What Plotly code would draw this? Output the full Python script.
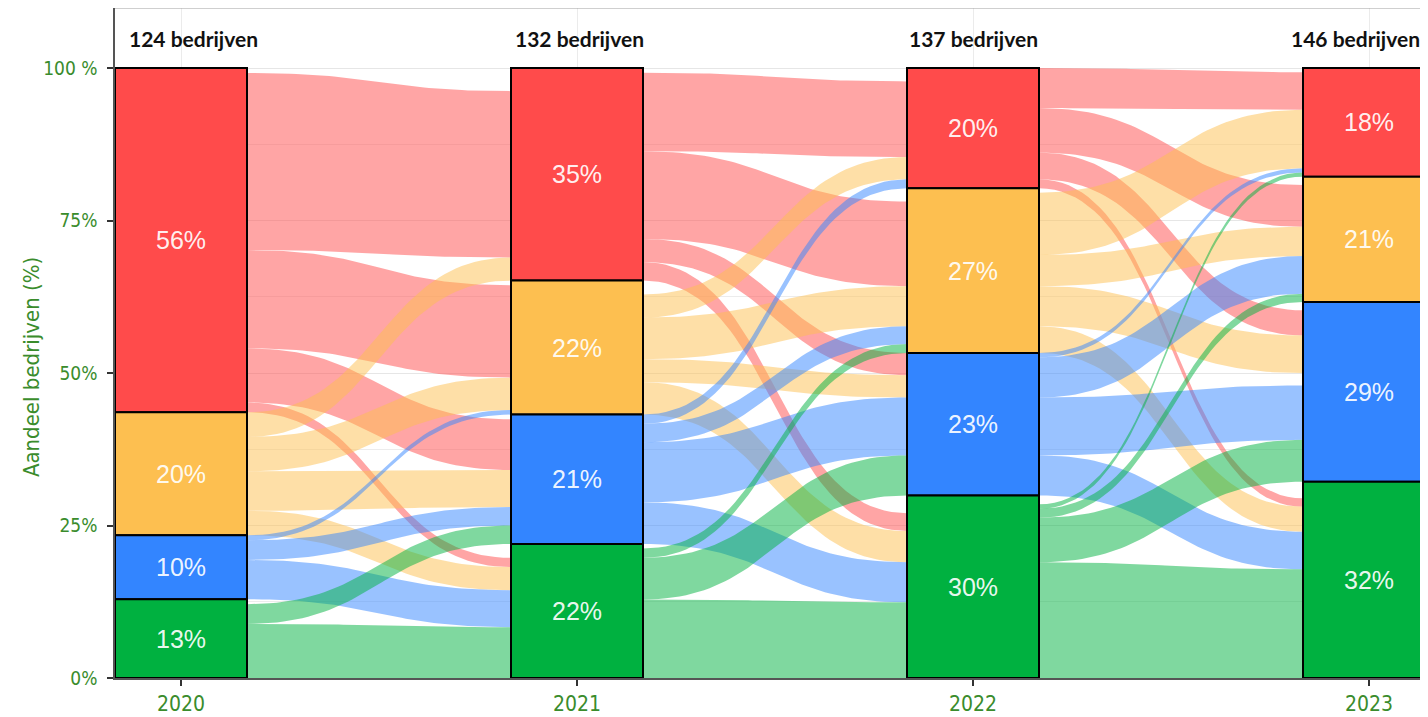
import numpy as np
import plotly.graph_objects as go

# ---------------- data ----------------
years = ["2020", "2021", "2022", "2023"]
companies = [124, 132, 137, 146]                 # number of companies per year
categories = ["Rood", "Oranje", "Blauw", "Groen"]  # stacking order, top -> bottom

counts_2020 = [70, 25, 13, 16]
counts_2021 = [46, 29, 28, 29]
counts_2022 = [27, 37, 32, 41]
counts_2023 = [26, 30, 43, 47]
stratum_counts = [counts_2020, counts_2021, counts_2022, counts_2023]

# flows[source][target] (companies), order Rood, Oranje, Blauw, Groen
flows_2020_2021 = [[36, 20, 11, 2],
                   [5, 7, 8, 5],
                   [0, 1, 4, 8],
                   [0, 0, 4, 11]]
flows_2021_2022 = [[17, 19, 5, 4],
                   [5, 9, 5, 7],
                   [2, 4, 13, 9],
                   [0, 2, 9, 17]]
flows_2022_2023 = [[9, 10, 6, 2],
                   [14, 7, 9, 6],
                   [1, 9, 13, 9],
                   [1, 2, 10, 26]]
transitions = [flows_2020_2021, flows_2021_2022, flows_2022_2023]

# extra empty space inside a stack: (transition, side, stratum) -> (after item, companies)
inner_gaps = {(2, "in", 2): (1, 3)}

# ---------------- style ----------------
bar_colors = ["#FF4B4B", "#FDBF50", "#3385FF", "#00B140"]
flow_colors = ["rgba(255,75,75,0.5)", "rgba(253,191,80,0.5)",
               "rgba(51,133,255,0.5)", "rgba(0,177,64,0.5)"]
GREEN_TXT = "#3a8c2c"
TICK_FONT = "Liberation Sans Narrow, DejaVu Sans Condensed, Roboto, sans-serif"
W = 1 / 3  # bar width in axis units


def bottoms(counts):
    return [sum(counts[k + 1:]) for k in range(len(counts))]


def stack(base, sizes, gap=None):
    pos = [None] * len(sizes)
    y = base
    for k in reversed(range(len(sizes))):
        if gap is not None and gap[0] == k:
            y += gap[1]
        pos[k] = (y, y + sizes[k])
        y += sizes[k]
    return pos


def curve(x0, x1, y0, y1, n=50):
    t = np.linspace(0, 1, n)
    k = 0.5
    c0 = x0 + k * (x1 - x0)
    c1 = x1 - k * (x1 - x0)
    x = (1 - t) ** 3 * x0 + 3 * (1 - t) ** 2 * t * c0 + 3 * (1 - t) * t ** 2 * c1 + t ** 3 * x1
    y = (1 - t) ** 3 * y0 + 3 * (1 - t) ** 2 * t * y0 + 3 * (1 - t) * t ** 2 * y1 + t ** 3 * y1
    return x, y


fig = go.Figure()

for t, fl in enumerate(transitions):
    nL, nR = companies[t], companies[t + 1]
    bL, bR = bottoms(stratum_counts[t]), bottoms(stratum_counts[t + 1])
    out_pos = [stack(bL[s], fl[s], inner_gaps.get((t, "out", s))) for s in range(4)]
    in_pos = [stack(bR[d], [fl[s][d] for s in range(4)], inner_gaps.get((t, "in", d)))
              for d in range(4)]
    x0, x1 = t + W / 2, t + 1 - W / 2
    for s in range(4):
        for d in range(4):
            if fl[s][d] == 0:
                continue
            l0, l1 = [v * 100 / nL for v in out_pos[s][d]]
            r0, r1 = [v * 100 / nR for v in in_pos[d][s]]
            xt, yt = curve(x0, x1, l1, r1)
            xb, yb = curve(x0, x1, l0, r0)
            fig.add_trace(go.Scatter(
                x=np.concatenate([xt, xb[::-1]]), y=np.concatenate([yt, yb[::-1]]),
                mode="lines", fill="toself", fillcolor=flow_colors[s],
                line=dict(width=0), hoverinfo="skip", showlegend=False))

annotations = []
shapes = []
for j, counts in enumerate(stratum_counts):
    n = companies[j]
    b = bottoms(counts)
    for c in range(4):
        lo, hi = b[c] * 100 / n, (b[c] + counts[c]) * 100 / n
        shapes.append(dict(type="rect", xref="x", yref="y", x0=j - W / 2, x1=j + W / 2,
                           y0=lo, y1=hi, fillcolor=bar_colors[c],
                           line=dict(color="black", width=2), layer="above"))
        annotations.append(dict(x=j, y=(lo + hi) / 2, xref="x", yref="y",
                                text=f"{round(100 * counts[c] / n)}%", showarrow=False,
                                font=dict(family="Liberation Sans, Arial, sans-serif",
                                          size=25, color="rgba(255,255,255,0.93)")))
    annotations.append(dict(x=j, y=104.9, xref="x", yref="y",
                            text=f"<b>{n} bedrijven</b>", showarrow=False,
                            xshift=[12, 2, 0, -14][j],
                            font=dict(family="Lato, sans-serif", size=21, color="#111111")))

annotations.append(dict(x=-0.064, y=0.464, xref="paper", yref="paper", textangle=-90,
                        xanchor="center", yanchor="middle",
                        text="Aandeel bedrijven (%)", showarrow=False,
                        font=dict(family=TICK_FONT, size=22, color=GREEN_TXT)))

shapes.append(dict(type="line", xref="paper", yref="paper", x0=0, x1=1, y0=1, y1=1,
                   line=dict(color="#a0a0a0", width=1)))

# page body has an 8px margin: size the figure so the plot lands where the reference has it
fig.update_layout(
    width=1420, height=709,
    margin=dict(l=107, r=0, t=0, b=39),
    plot_bgcolor="white", paper_bgcolor="white",
    showlegend=False,
    shapes=shapes, annotations=annotations,
    xaxis=dict(range=[-W / 2, 3.149], tickmode="array", tickvals=[0, 1, 2, 3],
               ticktext=years, showgrid=True, gridcolor="#ebebeb", gridwidth=1,
               ticks="outside", ticklen=6, tickcolor="#333333", tickwidth=1.5,
               showline=True, linecolor="#555555", linewidth=1.5, zeroline=False,
               tickfont=dict(family=TICK_FONT, size=21, color=GREEN_TXT)),
    yaxis=dict(range=[0, 109.84], tickmode="array", tickvals=[0, 25, 50, 75, 100],
               ticktext=["0%", "25%", "50%", "75%", "100 %"],
               showgrid=True, gridcolor="#e6e6e6", gridwidth=1,
               minor=dict(tickmode="array", tickvals=[12.5, 37.5, 62.5, 87.5],
                          showgrid=True, gridcolor="#ececec", ticks=""),
               ticks="outside", ticklen=6, tickcolor="#333333", tickwidth=1.5,
               showline=True, linecolor="#555555", linewidth=1.5, zeroline=False,
               ticklabelstandoff=6,
               tickfont=dict(family=TICK_FONT, size=19, color=GREEN_TXT)),
)

fig.write_html("out.html")
